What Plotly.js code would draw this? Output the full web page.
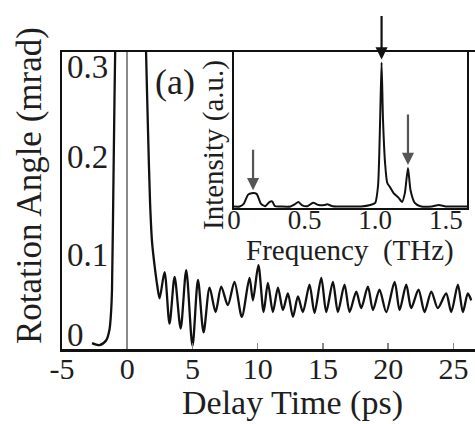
<!DOCTYPE html>
<html>
<head>
<meta charset="utf-8">
<script src="https://cdn.plot.ly/plotly-3.0.1.min.js"></script>
<style>html,body{margin:0;padding:0;background:#fff;}#chart{width:475px;height:424px;}</style>
</head>
<body>
<div id="chart"></div>
<script>
// Main trace: rotation angle vs delay time
const delayPs = [-2.7, -2.12, -1.61, -1.36, -1.23, -1.17, -1.05, -0.92, -0.5, 0.3, 1.2, 1.45, 1.6, 1.75, 1.9, 2.1, 2.3, 2.48,
  2.86, 3.24, 3.63, 4.09, 4.52, 5.0, 5.42, 5.85, 6.31, 6.77, 7.2, 7.71, 8.22, 8.78, 9.37, 9.63, 10.05, 10.45, 10.78, 11.16,
  11.55, 11.93, 12.31, 12.7, 13.08, 13.46, 13.97, 14.35, 14.87, 15.25, 15.76, 16.14, 16.65, 17.04, 17.55, 17.93, 18.44, 18.83,
  19.33, 19.85, 20.49, 20.87, 21.38, 21.76, 22.32, 22.78, 23.3, 23.8, 24.44, 24.83, 25.34, 25.72, 26.1, 26.36];
const rotationMrad = [0.006, 0.004, 0.009, 0.02, 0.04, 0.06, 0.18, 0.31, 0.6, 0.9, 0.45, 0.30, 0.22, 0.15, 0.11, 0.085, 0.065, 0.052,
  0.079, 0.026, 0.074, 0.021, 0.081, 0.003, 0.071, 0.017, 0.063, 0.038, 0.064, 0.045, 0.069, 0.033, 0.073, 0.05, 0.086, 0.038, 0.068, 0.038,
  0.063, 0.04, 0.057, 0.033, 0.054, 0.038, 0.066, 0.037, 0.073, 0.038, 0.069, 0.038, 0.066, 0.038, 0.059, 0.042, 0.064, 0.040,
  0.061, 0.038, 0.069, 0.040, 0.066, 0.042, 0.061, 0.038, 0.059, 0.042, 0.057, 0.038, 0.066, 0.038, 0.057, 0.05];

// Inset: Fourier spectrum
const freqTHz = [0.0, 0.04, 0.07, 0.10, 0.125, 0.16, 0.19, 0.22, 0.25, 0.27, 0.29, 0.33, 0.40, 0.43, 0.456, 0.48, 0.52, 0.56, 0.60,
  0.64, 0.66, 0.70, 0.80, 0.90, 0.965, 1.0, 1.02, 1.035, 1.045, 1.055, 1.07, 1.085, 1.105, 1.13, 1.165, 1.19, 1.21, 1.232, 1.25,
  1.28, 1.32, 1.40, 1.45, 1.50, 1.60, 1.65];
const intensityAU = [0.01, 0.01, 0.03, 0.09, 0.10, 0.095, 0.03, 0.012, 0.04, 0.045, 0.012, 0.01, 0.01, 0.025, 0.04, 0.02, 0.012, 0.035, 0.02,
  0.02, 0.025, 0.012, 0.01, 0.01, 0.02, 0.035, 0.15, 0.6, 0.98, 0.6, 0.3, 0.17, 0.14, 0.10, 0.07, 0.04, 0.10, 0.27, 0.12,
  0.035, 0.012, 0.01, 0.02, 0.01, 0.01, 0.01];

// Tick labels
const xTickVals = [-5, 0, 5, 10, 15, 20, 25];
const xTickText = ['-5', '0', '5', '10', '15', '20', '25'];
const yTickVals = [0, 0.1, 0.2, 0.3];
const yTickText = ['0', '0.1', '0.2', '0.3'];
const fTickVals = [0, 0.5, 1.0, 1.5];
const fTickText = ['0', '0.5', '1.0', '1.5'];
const arrowFreqs = [0.135, 1.045, 1.232];

const serif = 'Liberation Serif, Times New Roman, serif';
const ink = '#1e1e1e';

function peakNear(f) {
  let best = 0;
  freqTHz.forEach((v, i) => { if (Math.abs(v - f) < 0.04) best = Math.max(best, intensityAU[i]); });
  return best;
}

const annotations = [];
// y tick labels drawn inside the main frame
yTickVals.forEach((v, i) => {
  const last = i === yTickVals.length - 1, first = i === 0;
  annotations.push({
    xref: 'paper', yref: 'y', x: 0, y: v, xanchor: 'left',
    yanchor: last ? 'top' : (first ? 'bottom' : 'middle'),
    yshift: last ? 10 : (first ? -6 : -3), xshift: 3,
    text: yTickText[i], showarrow: false,
    font: {family: serif, size: 33, color: ink}
  });
});
// arrows in the inset
const arrowLen = [-45, -48, -55];
const arrowCol = ['#555', '#111', '#555'];
arrowFreqs.forEach((f, i) => {
  annotations.push({
    xref: 'x2', yref: 'y2', x: f, y: peakNear(f), ax: 0, ay: arrowLen[i],
    text: '', showarrow: true, arrowhead: 2, arrowsize: 1.1, arrowwidth: 2.2,
    arrowcolor: arrowCol[i], standoff: 3
  });
});
// titles / labels
annotations.push({xref: 'paper', yref: 'paper', x: (292 - 62) / 413, y: -(403 - 349) / 297, xanchor: 'center', yanchor: 'middle',
  text: 'Delay Time (ps)', showarrow: false, font: {family: serif, size: 34, color: ink}});
annotations.push({xref: 'paper', yref: 'paper', x: (30 - 62) / 413, y: (349 - 186) / 297, xanchor: 'center', yanchor: 'middle',
  textangle: -90, text: 'Rotation Angle (mrad)', showarrow: false, font: {family: serif, size: 35, color: ink}});
annotations.push({xref: 'paper', yref: 'paper', x: (213 - 62) / 413, y: (349 - 145) / 297, xanchor: 'center', yanchor: 'middle',
  textangle: -90, text: 'Intensity (a.u.)', showarrow: false, font: {family: serif, size: 29, color: ink}});
annotations.push({xref: 'paper', yref: 'paper', x: (175 - 62) / 413, y: (349 - 82) / 297, xanchor: 'center', yanchor: 'middle',
  text: '(a)', showarrow: false, font: {family: serif, size: 36, color: ink}});
annotations.push({xref: 'paper', yref: 'paper', x: (350 - 62) / 413, y: (349 - 250) / 297, xanchor: 'center', yanchor: 'middle',
  text: 'Frequency\u00a0\u00a0(THz)', showarrow: false, font: {family: serif, size: 29, color: ink}});

const traces = [
  {x: delayPs, y: rotationMrad, type: 'scatter', mode: 'lines', xaxis: 'x', yaxis: 'y',
   line: {color: '#111', width: 2.3, shape: 'spline', smoothing: 0.8}, hoverinfo: 'skip'},
  {x: freqTHz, y: intensityAU, type: 'scatter', mode: 'lines', xaxis: 'x2', yaxis: 'y2',
   line: {color: '#111', width: 2, shape: 'spline', smoothing: 0.6}, hoverinfo: 'skip'}
];

const layout = {
  width: 475, height: 424,
  margin: {l: 62, r: 0, t: 52, b: 75, pad: 0},
  paper_bgcolor: '#fff', plot_bgcolor: 'rgba(0,0,0,0)',
  showlegend: false,
  xaxis: {
    domain: [0, 1], range: [-5, 26.65], tickmode: 'array', tickvals: xTickVals, ticktext: xTickText,
    ticks: 'inside', ticklen: 6, tickwidth: 1.5, tickcolor: '#888',
    showline: true, linecolor: '#111', linewidth: 2.5, mirror: true,
    showgrid: false, zeroline: true, zerolinecolor: '#8a8a8a', zerolinewidth: 2.5,
    tickfont: {family: serif, size: 30, color: ink}, ticklabelstandoff: -9, fixedrange: true
  },
  yaxis: {
    domain: [0, 1], range: [0, 0.305], showticklabels: false, ticks: '',
    showline: true, linecolor: '#111', linewidth: 2, mirror: false,
    showgrid: false, zeroline: false, fixedrange: true
  },
  xaxis2: {
    anchor: 'y2', domain: [(234 - 62) / 413, (467 - 62) / 413], range: [0, 1.65],
    tickmode: 'array', tickvals: fTickVals, ticktext: fTickText, ticks: '',
    showline: true, linecolor: '#111', linewidth: 2, mirror: true,
    showgrid: false, zeroline: false,
    tickfont: {family: serif, size: 27, color: ink}, ticklabelstandoff: -13, fixedrange: true
  },
  yaxis2: {
    anchor: 'x2', domain: [(349 - 208) / 297, 1], range: [0, 1.05],
    showticklabels: false, ticks: '', showline: true, linecolor: '#111', linewidth: 2, mirror: true,
    showgrid: false, zeroline: false, fixedrange: true
  },
  annotations: annotations
};

Plotly.newPlot('chart', traces, layout, {displayModeBar: false, staticPlot: true});
</script>
</body>
</html>
